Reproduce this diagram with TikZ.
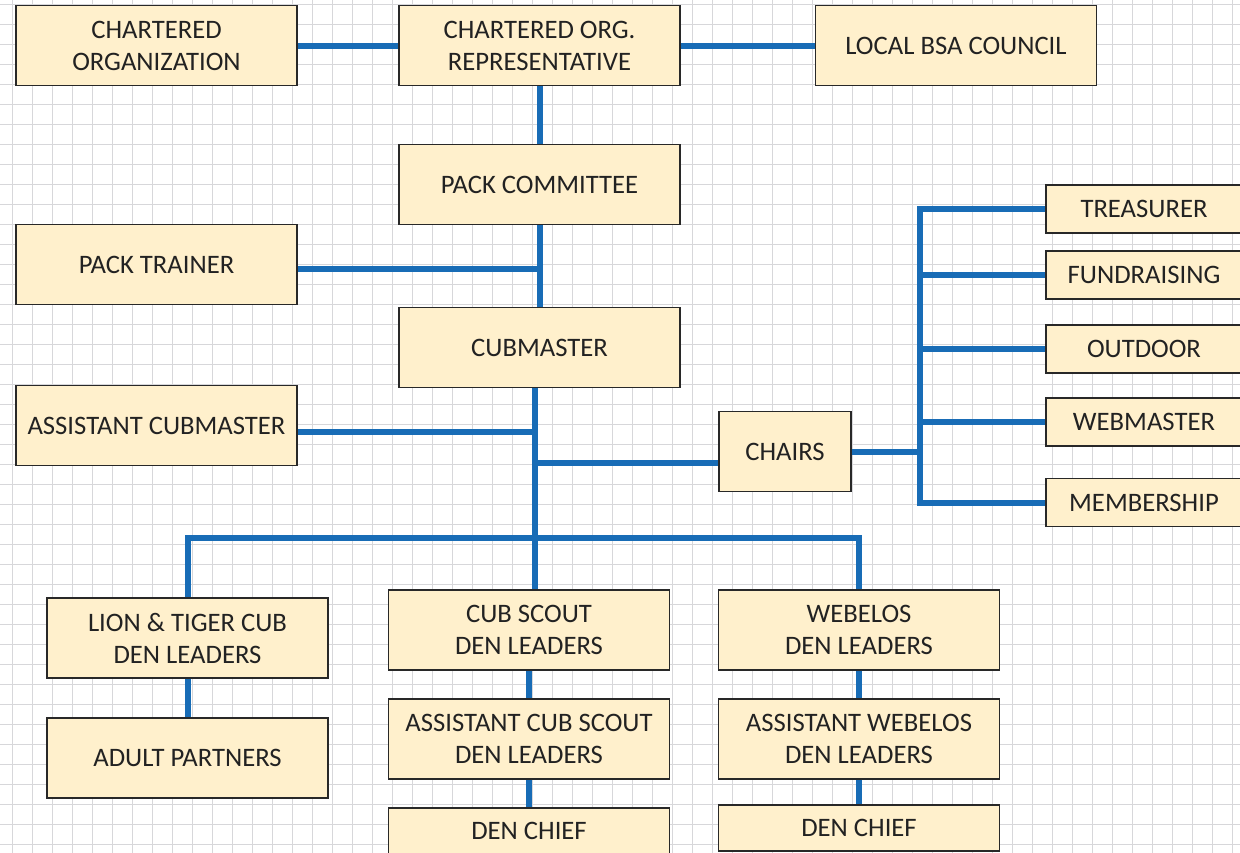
\documentclass[tikz,border=0pt]{standalone}
\usepackage{fontspec}
\setmainfont{Carlito}
\usetikzlibrary{calc}
\definecolor{conn}{RGB}{24,108,182}
\definecolor{boxfill}{RGB}{255,240,204}
\definecolor{boxline}{RGB}{40,40,40}
\definecolor{txt}{RGB}{34,34,34}
\definecolor{gridc}{RGB}{215,215,218}
\tikzset{
  box/.style={draw=boxline, line width=1.1pt, fill=boxfill, text=txt, align=center,
    font=\fontsize{20}{24}\selectfont, inner sep=0pt,
    minimum width=210.75pt, minimum height=60pt},
  smallbox/.style={box, minimum width=147pt, minimum height=36pt},
  link/.style={draw=conn, line width=4.5pt}
}
\begin{document}
\begin{tikzpicture}[x=0.75pt,y=-0.75pt]
\useasboundingbox (0,0) rectangle (1240,853);
\clip (0,0) rectangle (1240,853);
\fill[white] (0,0) rectangle (1240,853);
% grid
\foreach \gx in {12,32,...,1232} \draw[gridc, line width=0.75pt] (\gx,0) -- (\gx,853);
\foreach \gy in {4,24,...,844} \draw[gridc, line width=0.75pt] (0,\gy) -- (1240,\gy);

% top row
\node[box] (org) at (156.5,45.5) {CHARTERED\\ORGANIZATION};
\node[box] (rep) at (539.5,45.5) {CHARTERED ORG.\\REPRESENTATIVE};
\node[box] (bsa) at (956,45.5) {LOCAL BSA COUNCIL};
\node[box] (committee) at (539.5,184.5) {PACK COMMITTEE};
\node[box] (trainer) at (156.5,264.5) {PACK TRAINER};
\node[box] (cubmaster) at (539.5,347.5) {CUBMASTER};
\node[box] (acm) at (156.5,425.5) {ASSISTANT CUBMASTER};
\node[box, minimum width=99pt] (chairs) at (785,451.5) {CHAIRS};

% chairs column
\node[smallbox] (treasurer) at (1144,209) {TREASURER};
\node[smallbox] (fundraising) at (1144,275) {FUNDRAISING};
\node[smallbox] (outdoor) at (1144,349) {OUTDOOR};
\node[smallbox] (webmaster) at (1144,422) {WEBMASTER};
\node[smallbox] (membership) at (1144,502.5) {MEMBERSHIP};

% dens
\node[box] (lion) at (187.5,638) {LION \& TIGER CUB\\DEN LEADERS};
\node[box] (adult) at (187.5,758) {ADULT PARTNERS};
\node[box] (cubden) at (529,630) {CUB SCOUT\\DEN LEADERS};
\node[box] (acubden) at (529,739) {ASSISTANT CUB SCOUT\\DEN LEADERS};
\node[box, minimum height=34.5pt] (cubchief) at (529,831) {DEN CHIEF};
\node[box] (webden) at (859,630) {WEBELOS\\DEN LEADERS};
\node[box] (awebden) at (859,739) {ASSISTANT WEBELOS\\DEN LEADERS};
\node[box, minimum height=34.5pt] (webchief) at (859,828) {DEN CHIEF};

\coordinate (spine) at (535,0);
\coordinate (bus) at (0,538);
\coordinate (chairbus) at (920,0);

% connectors (drawn behind boxes)
\begin{scope}[on background layer/.try]
\end{scope}
\draw[link] (org.east) -- (rep.west);
\draw[link] (rep.east) -- (bsa.west);
\draw[link] (rep.south) -- (committee.north);
\draw[link] (committee.south) -- (cubmaster.north);
\draw[link] ($(trainer.east)+(0,4)$) -- ($(trainer.east -| committee.south)+(0,4)$);
\draw[link] (cubmaster.south -| spine) -- (cubden.north -| spine);
\draw[link] ($(acm.east)+(0,6.5)$) -- ($(acm.east -| spine)+(0,6.5)$);
\draw[link] ($(chairs.west -| spine)+(0,11.5)$) -- ($(chairs.west)+(0,11.5)$);
\draw[link, line join=miter] (lion.north) -- (lion.north |- bus) -- (webden.north |- bus) -- (webden.north);
\draw[link] (lion.south) -- (adult.north);
\draw[link] (cubden.south) -- (acubden.north);
\draw[link] (acubden.south) -- (cubchief.north);
\draw[link] (webden.south) -- (awebden.north);
\draw[link] (awebden.south) -- (webchief.north);
\draw[link] (chairs.east) -- (chairs.east -| chairbus);
\draw[link, line join=miter] (treasurer.west) -- (treasurer.west -| chairbus) -- (membership.west -| chairbus) -- (membership.west);
\draw[link] (fundraising.west -| chairbus) -- (fundraising.west);
\draw[link] (outdoor.west -| chairbus) -- (outdoor.west);
\draw[link] (webmaster.west -| chairbus) -- (webmaster.west);
\end{tikzpicture}
\end{document}
